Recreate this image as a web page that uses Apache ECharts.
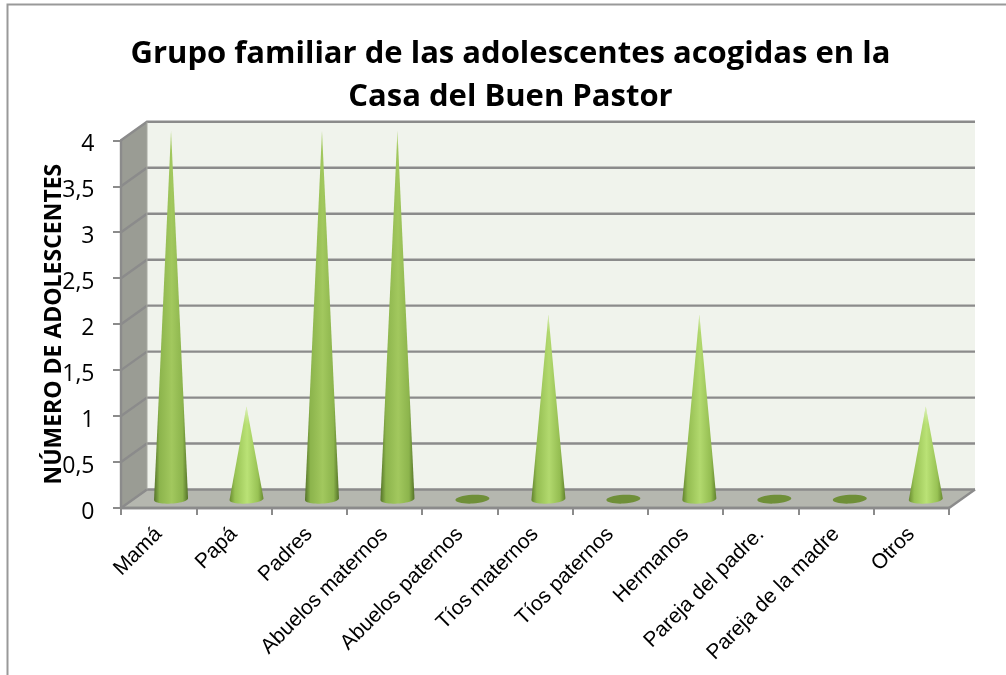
<!DOCTYPE html>
<html><head><meta charset="utf-8">
<style>html,body{margin:0;padding:0;background:#fff}#c{width:1006px;height:675px}</style>
<script src="https://cdn.jsdelivr.net/npm/echarts@6/dist/echarts.min.js"></script>
</head><body><div id="c"></div>
<script>
const categories = ['Mamá','Papá','Padres','Abuelos maternos','Abuelos paternos','Tíos maternos','Tíos paternos','Hermanos','Pareja del padre.','Pareja de la madre','Otros'];
const values = [4,1,4,4,0,2,0,2,0,0,1];
const gridTicks = [0,0.5,1,1.5,2,2.5,3,3.5,4];
const titleText = 'Grupo familiar de las adolescentes acogidas en la\nCasa del Buen Pastor';
const yName = 'NÚMERO DE ADOLESCENTES';

const DX = 26, DY = -18.5, GRID = '#8b8b8b';
const chart = echarts.init(document.getElementById('c'), null, {renderer:'canvas'});

function renderWalls(params, api){
  const nCat = categories.length;
  const L = api.coord([0,0])[0] - params.coordSys.width/nCat/2;
  const R = L + params.coordSys.width;
  const y0 = api.coord([0,0])[1], y4 = api.coord([0,4])[1];
  const children = [
    {type:'polygon',shape:{points:[[L+DX,y4+DY],[R+DX,y4+DY],[R+DX,y0+DY],[L+DX,y0+DY]]},style:{fill:'#f0f3ec'}},
    {type:'polygon',shape:{points:[[L,y4],[L+DX,y4+DY],[L+DX,y0+DY],[L,y0]]},style:{fill:'#9a9c94'}},
    {type:'polygon',shape:{points:[[L,y0],[L+DX,y0+DY],[R+DX,y0+DY],[R,y0]]},style:{fill:'#b5b7af'}}
  ];
  gridTicks.forEach(t=>{
    const y = api.coord([0,t])[1];
    children.push({type:'polyline',shape:{points:[[L,y],[L+DX,y+DY],[R+DX,y+DY]]},style:{fill:null,stroke:GRID,lineWidth:2.4}});
  });
  children.push({type:'line',shape:{x1:L+DX,y1:y4+DY,x2:L+DX,y2:y0+DY},style:{stroke:'#a8aaa2',lineWidth:1}});
  children.push({type:'line',shape:{x1:L,y1:y0,x2:R,y2:y0},style:{stroke:GRID,lineWidth:2.4}});
  children.push({type:'line',shape:{x1:R,y1:y0,x2:R+DX,y2:y0+DY},style:{stroke:GRID,lineWidth:2.4}});
  return {type:'group',children};
}

function renderCone(params, api){
  const i = api.value(0), v = api.value(1);
  const base = api.coord([i,0]), top = api.coord([i,v]);
  const skew = 12.4 + i*0.2;
  const cx = base[0]+skew, cy = base[1]-8.8, tipY = top[1]-9.6;
  const rx = 17, ry = 4.4, tilt = -0.05;
  if (v === 0) {
    return {type:'ellipse',shape:{cx:cx-0.5,cy:cy,rx:rx,ry:ry},rotation:0.05,originX:cx-0.5,originY:cy,
      style:{fill:'#6f8f38'}};
  }
  const pts = [[cx,tipY]];
  for(let a=0;a<=24;a++){
    const th=a/24*Math.PI, ex=rx*Math.cos(th), ey=ry*Math.sin(th);
    pts.push([cx+ex, cy+ey+tilt*ex]);
  }
  const k = Math.min(1,(v-1)/3);
  const mix=(a,b)=>'rgb('+a.map((c,j)=>Math.round(c+(b[j]-c)*k)).join(',')+')';
  const edge = mix([104,138,48],[84,114,40]);
  const mid  = mix([186,226,118],[162,200,94]);
  const midD = mix([152,194,84],[140,180,76]);
  const fade = 18/(cy+ry-tipY);
  return {type:'group',children:[
    {type:'polygon',shape:{points:pts},style:{fill:{type:'linear',x:0,y:0,x2:1,y2:0,colorStops:[
      {offset:0,color:edge},{offset:0.16,color:midD},{offset:0.52,color:mid},{offset:0.84,color:midD},{offset:1,color:edge}]}}},
    {type:'polygon',shape:{points:pts},style:{fill:{type:'linear',x:0,y:0,x2:0,y2:1,colorStops:[
      {offset:0,color:'rgba(240,248,225,0.7)'},{offset:fade,color:'rgba(220,240,180,0)'},{offset:1,color:'rgba(220,240,180,0)'}]}}}
  ]};
}

chart.setOption({
  animation:false,
  backgroundColor:'#ffffff',
  title:{text:titleText,left:505.5,top:28,textAlign:'center',
    textStyle:{fontFamily:'Open Sans',fontWeight:'bold',fontSize:31,color:'#000',lineHeight:43}},
  graphic:[{type:'polyline',silent:true,shape:{points:[[7.5,675],[7.5,4.5],[1006,4.5]]},style:{fill:null,stroke:'#999999',lineWidth:2}}],
  grid:{left:121,right:57,top:140.3,bottom:167},
  xAxis:{type:'category',data:categories,z:5,
    axisLine:{show:true,lineStyle:{color:GRID,width:2.4}},
    axisTick:{show:true,length:7,alignWithLabel:false,lineStyle:{color:GRID,width:2}},
    axisLabel:{rotate:45,interval:0,margin:23,fontFamily:'Liberation Sans',fontSize:21,color:'#000'}},
  yAxis:{type:'value',min:0,max:4,interval:0.5,z:5,
    name:yName,nameLocation:'middle',nameGap:67,nameRotate:90,nameMoveOverlap:false,
    nameTextStyle:{fontFamily:'Open Sans',fontWeight:'bold',fontSize:23,color:'#000',verticalAlign:'middle'},
    splitLine:{show:false},
    axisLine:{show:true,lineStyle:{color:GRID,width:2.4}},
    axisTick:{show:true,length:8,lineStyle:{color:GRID,width:2}},
    axisLabel:{margin:26.5,verticalAlign:'top',lineHeight:8,fontFamily:'Open Sans',fontSize:23,color:'#000',formatter:v=>String(v).replace('.',',')}},
  series:[
    {type:'custom',name:'walls',z:1,silent:true,renderItem:renderWalls,data:[[0,0]],encode:{x:0,y:1},clip:false},
    {type:'custom',name:'cones',z:6,silent:true,renderItem:renderCone,clip:false,encode:{x:0,y:1},
      data:values.map((v,i)=>[i,v])}
  ]
});
</script></body></html>
